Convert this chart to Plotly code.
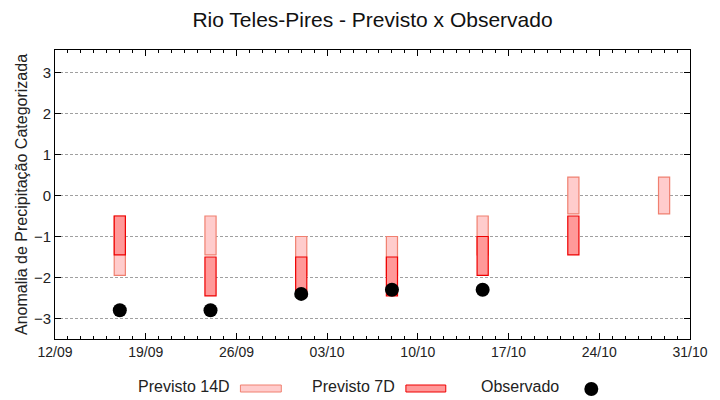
import plotly.graph_objects as go

# ---- data ----
dates_14d = ["2023-09-17", "2023-09-24", "2023-10-01", "2023-10-08", "2023-10-15", "2023-10-22", "2023-10-29"]
top_14d = [-0.5, -0.5, -1.0, -1.0, -0.5, 0.45, 0.45]
bottom_14d = [-1.95, -1.45, -1.95, -1.95, -1.45, -0.45, -0.45]

dates_7d = ["2023-09-17", "2023-09-24", "2023-10-01", "2023-10-08", "2023-10-15", "2023-10-22"]
top_7d = [-0.5, -1.5, -1.5, -1.5, -1.0, -0.5]
bottom_7d = [-1.45, -2.45, -2.45, -2.45, -1.95, -1.45]

dates_obs = ["2023-09-17", "2023-09-24", "2023-10-01", "2023-10-08", "2023-10-15"]
obs = [-2.8, -2.8, -2.4, -2.3, -2.3]

title = "Rio Teles-Pires - Previsto x Observado"
ytitle = "Anomalia de Precipitação Categorizada"
legend_labels = ["Previsto 14D", "Previsto 7D", "Observado"]

DAY = 86400000
FONT = "Liberation Sans, Arial, sans-serif"

fig = go.Figure()
fig.add_trace(go.Bar(
    x=dates_14d, y=[t - b for t, b in zip(top_14d, bottom_14d)], base=bottom_14d,
    width=0.86 * DAY, marker=dict(color="#ffcccc", line=dict(color="#f08070", width=1.2)),
    name=legend_labels[0], showlegend=False))
fig.add_trace(go.Bar(
    x=dates_7d, y=[t - b for t, b in zip(top_7d, bottom_7d)], base=bottom_7d,
    width=0.86 * DAY, marker=dict(color="#ff9999", line=dict(color="#ee0000", width=1.2)),
    name=legend_labels[1], showlegend=False))
fig.add_trace(go.Scatter(
    x=dates_obs, y=obs, mode="markers",
    marker=dict(color="black", size=14, line=dict(width=0)),
    name=legend_labels[2], showlegend=False))

# legend (gnuplot style: text then sample)
def px_x(p):
    return (p - 55) / 637.0

def px_y(p):
    return (339 - p) / 289.0

ly = 386
for label, xr in zip(legend_labels, [233, 398, 563]):
    fig.add_annotation(text=label, x=px_x(xr), y=px_y(ly), xref="paper", yref="paper",
                       xanchor="right", yanchor="middle", showarrow=False,
                       font=dict(family=FONT, size=16, color="#222"))
fig.add_shape(type="rect", xref="paper", yref="paper",
              x0=px_x(241), x1=px_x(282), y0=px_y(392), y1=px_y(385),
              fillcolor="#ffcccc", line=dict(color="#f08070", width=1))
fig.add_shape(type="rect", xref="paper", yref="paper",
              x0=px_x(407), x1=px_x(447), y0=px_y(392), y1=px_y(385),
              fillcolor="#ff9999", line=dict(color="#ee0000", width=1))
fig.add_shape(type="circle", xref="paper", yref="paper",
              x0=px_x(586), x1=px_x(600), y0=px_y(396), y1=px_y(382),
              fillcolor="black", line=dict(color="black", width=0))

fig.update_layout(
    width=720, height=400,
    margin=dict(l=55, r=28, t=50, b=61),
    paper_bgcolor="white", plot_bgcolor="white",
    barmode="overlay",
    title=dict(text=title, x=0.5, xanchor="center", y=0.95, yanchor="middle",
               xref="paper", font=dict(family=FONT, size=21, color="#111")),
    font=dict(family=FONT, color="#222"),
    showlegend=False,
)
fig.update_xaxes(
    type="date", range=["2023-09-12", "2023-10-31"],
    tick0="2023-09-12", dtick=7 * DAY, tickformat="%d/%m",
    ticks="inside", ticklen=6, tickcolor="black",
    showline=True, linecolor="black", linewidth=1, mirror="ticks",
    showgrid=False, zeroline=False,
    tickfont=dict(family=FONT, size=14, color="#222"),
    minor=dict(dtick=DAY, ticks="inside", ticklen=3, tickcolor="black", showgrid=False),
)
fig.update_yaxes(
    range=[-3.5, 3.55], dtick=1, tick0=0,
    ticks="inside", ticklen=6, tickcolor="black",
    showline=True, linecolor="black", linewidth=1, mirror="ticks",
    showgrid=True, gridcolor="#a0a0a0", griddash="3px,2px", gridwidth=1,
    zeroline=False,
    tickfont=dict(family=FONT, size=15, color="#222"),
    title=dict(text=ytitle, font=dict(family=FONT, size=16, color="#222"), standoff=2),
)

fig.write_html("out.html", config={"displayModeBar": False},
               post_script="document.body.style.margin='0px';")
